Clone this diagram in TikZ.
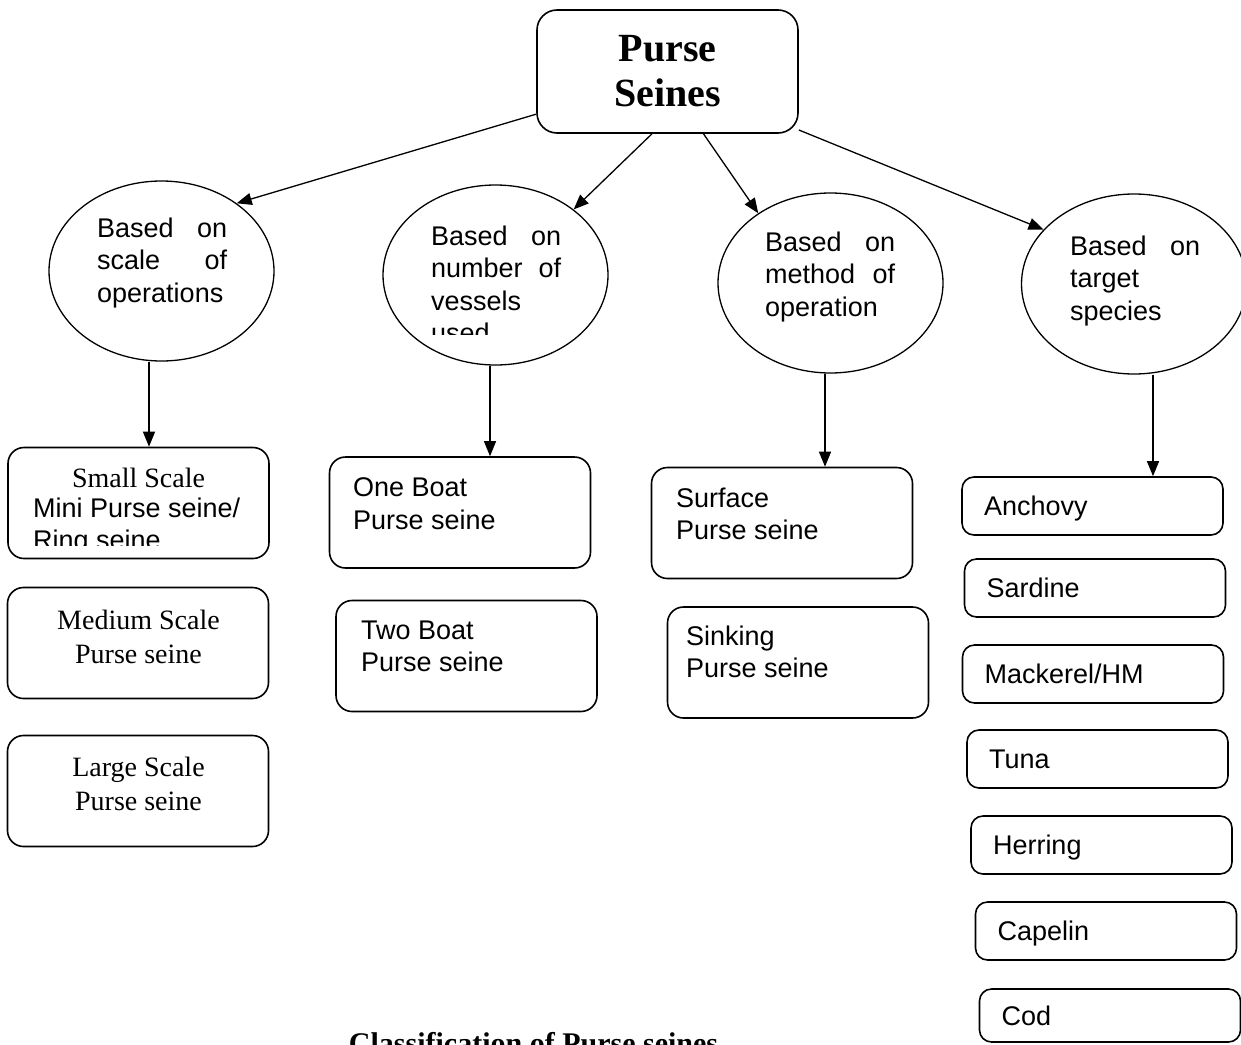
\documentclass[tikz,border=0pt]{standalone}
\usepackage{fontspec}
\setmainfont{Liberation Serif}
\newfontfamily\arialfont{Liberation Sans}
\usetikzlibrary{arrows.meta, shapes.geometric}
\tikzset{
  head/.style={rectangle, draw, rounded corners=20pt, line width=1.6pt, align=center,
               inner sep=0pt, minimum width=261pt, minimum height=123pt,
               font=\bfseries\fontsize{40}{45}\selectfont},
  basis/.style={ellipse, draw, line width=1.3pt, inner sep=0pt,
                minimum width=225pt, minimum height=180pt},
  btxt/.style={anchor=north west, inner sep=0pt, text width=130pt, align=left,
               font=\arialfont\fontsize{27}{32.5}\selectfont},
  kind/.style={rectangle, draw, rounded corners=16pt, line width=1.6pt,
               minimum width=261pt, minimum height=111pt},
  ktxt/.style={anchor=north west, inner sep=0pt, align=left,
               font=\arialfont\fontsize{27}{32.5}\selectfont},
  ktxtr/.style={anchor=north, inner sep=0pt, align=center, font=\fontsize{28}{34}\selectfont},
  fish/.style={rectangle, draw, rounded corners=12pt, line width=1.6pt,
               minimum width=261pt, minimum height=58pt, inner xsep=22pt, inner ysep=0pt,
               text width=217pt, align=left, text height=19pt, text depth=0pt,
               font=\arialfont\fontsize{27}{32.5}\selectfont},
  arr/.style={-{Triangle[length=15pt, width=12pt]}, line width=1.3pt},
}
\begin{document}
\begin{tikzpicture}[x=1pt, y=-1pt]
  \useasboundingbox (0,0) rectangle (1241,1044);
  % root
  \node[head] (top) at (667.5,71.5) {Purse\\Seines};
  % the four bases
  \node[basis] (scl) at (161.5,271) {};
  \node[basis] (ves) at (495.5,275) {};
  \node[basis] (mtd) at (830.5,283) {};
  \node[basis] (tgt) at (1134,284) {};
  \node[btxt] (sclt) at (97,217.7) {Based\hfill on\\scale\hfill of\\operations};
  \begin{scope}
    \clip (420,200) rectangle (580,334);
    \node[btxt] (vest) at (431,225.7) {Based\hfill on\\number\hfill of\\vessels\\used};
  \end{scope}
  \node[btxt] (mtdt) at (765,231.7) {Based\hfill on\\method\hfill of\\operation};
  \node[btxt] (tgtt) at (1070,235.7) {Based\hfill on\\target\\species};
  \draw[arr] (top.198) -- (scl.42);
  \draw[arr] (top.256) -- (ves.40);
  \draw[arr] (top.300) -- (mtd.136);
  \draw[arr] (top.-24) -- (tgt.149);
  % scale of operations
  \node[kind] (small) at (138.5,503) {};
  \node[kind] (medium) at (138,643) {};
  \node[kind] (large) at (138,791) {};
  \node[ktxtr] (smallt) at (138.5,467.9) {Small Scale};
  \begin{scope}
    \clip (20,480) rectangle (260,545);
    \node[ktxt] (smalla) at (33,497.7) {Mini Purse seine/\\Ring seine};
  \end{scope}
  \node[ktxtr] (mediumt) at (138.5,609.9) {Medium Scale\\Purse seine};
  \node[ktxtr] (larget) at (138.5,756.9) {Large Scale\\Purse seine};
  % number of vessels
  \node[kind] (one) at (460,512.5) {};
  \node[kind] (two) at (466.5,656) {};
  \node[ktxt] (onet) at (353,477.7) {One Boat\\Purse seine};
  \node[ktxt] (twot) at (361,620.7) {Two Boat\\Purse seine};
  % method of operation
  \node[kind] (surf) at (782,523) {};
  \node[kind] (sink) at (798,662.5) {};
  \node[ktxt] (surft) at (676,487.7) {Surface\\Purse seine};
  \node[ktxt] (sinkt) at (686,625.7) {Sinking\\Purse seine};
  % target species
  \node[fish] (anch) at (1092.5,506) {Anchovy};
  \node[fish] (sard) at (1095,588) {Sardine};
  \node[fish] (mack) at (1093,674) {Mackerel/HM};
  \node[fish] (tuna) at (1097.5,759) {Tuna};
  \node[fish] (herr) at (1101.5,845) {Herring};
  \node[fish] (cape) at (1106,931) {Capelin};
  \node[fish, minimum height=53pt] (cod) at (1110,1015.5) {Cod};
  % down arrows
  \coordinate (d1) at ([xshift=-12.5pt]scl.south);
  \coordinate (d2) at ([xshift=-5.5pt]ves.south);
  \coordinate (d3) at ([xshift=-5.5pt]mtd.south);
  \coordinate (d4) at ([xshift=19pt]tgt.south);
  \draw[arr] (d1) -- (d1 |- small.north);
  \draw[arr] (d2) -- (d2 |- one.north);
  \draw[arr] (d3) -- (d3 |- surf.north);
  \draw[arr] (d4) -- (d4 |- anch.north);
  % caption
  \node[anchor=base, inner sep=0pt, font=\bfseries\fontsize{30}{34}\selectfont] (cap)
    at (533.5,1053) {Classification of Purse seines};
\end{tikzpicture}
\end{document}
